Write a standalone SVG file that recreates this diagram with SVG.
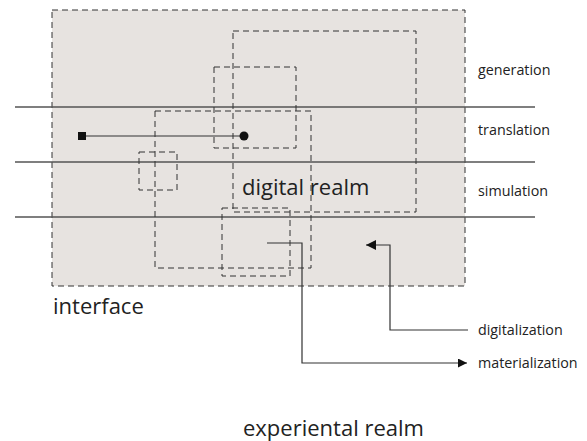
<svg xmlns="http://www.w3.org/2000/svg" width="587" height="441" viewBox="0 0 587 441">
<style>
.dash{fill:none;stroke:#333;stroke-width:1;stroke-dasharray:6 4}
.band{stroke:#555;stroke-width:1.3}
.conn{fill:none;stroke:#333;stroke-width:1.2}
.lbl{font-family:"Open Sans","Liberation Sans",sans-serif;font-size:14.3px;fill:#222}
.big{font-family:"Open Sans","Liberation Sans",sans-serif;font-size:22px;fill:#222}
</style>
<defs>
<marker id="ah" viewBox="0 0 10 10" refX="10" refY="5" markerWidth="9" markerHeight="9" markerUnits="userSpaceOnUse" orient="auto">
<path d="M0,0 L10,5 L0,10 Z" fill="#111"/>
</marker>
<marker id="ahl" viewBox="0 0 10 10" refX="10" refY="5" markerWidth="10" markerHeight="10" markerUnits="userSpaceOnUse" orient="auto">
<path d="M0,0 L10,5 L0,10 Z" fill="#111"/>
</marker>
</defs>
<rect width="587" height="441" fill="#fff"/>
<g id="interface">
<rect x="52" y="10" width="413" height="276" class="dash" style="fill:#e7e3e0"/>
<text class="big" x="53" y="314">interface</text>
</g>
<g id="bands">
<line class="band" x1="15" y1="107" x2="535" y2="107"/>
<line class="band" x1="15" y1="162" x2="535" y2="162"/>
<line class="band" x1="15" y1="217" x2="535" y2="217"/>
</g>
<g id="digital-realm">
<rect class="dash" x="233" y="31" width="183" height="181"/>
<text class="big" x="242" y="195">digital realm</text>
</g>
<g id="box-upper"><rect class="dash" x="214" y="67" width="82" height="81"/></g>
<g id="box-medium"><rect class="dash" x="155" y="111" width="156" height="157"/></g>
<g id="box-left"><rect class="dash" x="139" y="152" width="38" height="38"/></g>
<g id="box-lower"><rect class="dash" x="222" y="208" width="68" height="68"/></g>
<g id="labels">
<text class="lbl" x="478" y="75">generation</text>
<text class="lbl" x="478" y="135">translation</text>
<text class="lbl" x="478" y="196">simulation</text>
<text class="lbl" x="478" y="335">digitalization</text>
<text class="lbl" x="478" y="368">materialization</text>
<text class="big" x="243" y="436">experiental realm</text>
</g>
<g id="connectors">
<line class="conn" x1="82" y1="136" x2="244" y2="136"/>
<rect x="78" y="132" width="8" height="8" fill="#111"/>
<circle cx="244" cy="136" r="4.5" fill="#111"/>
<path class="conn" d="M267,243 H302 V363 H467" marker-end="url(#ah)"/>
<path class="conn" d="M468,330 H390 V245 H366" marker-end="url(#ahl)"/>
</g>
</svg>
